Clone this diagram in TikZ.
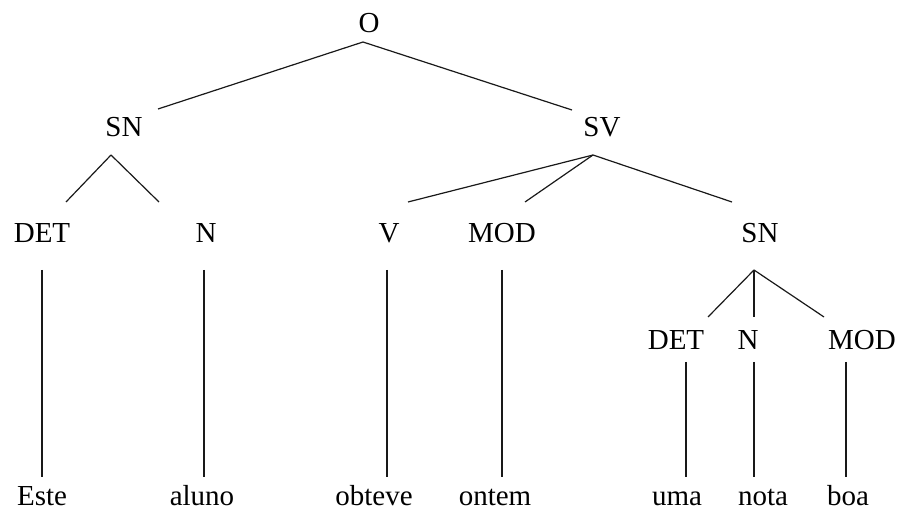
\documentclass[tikz,border=0pt]{standalone}
\usepackage{fontspec}
\setmainfont{Liberation Serif}
\usetikzlibrary{calc}
\begin{document}
\begin{tikzpicture}[x=1pt,y=-1pt,
  lbl/.style={anchor=base,inner sep=0pt,font=\fontsize{29}{34}\selectfont},
  edge/.style={line width=1.2pt,black!90}]
\useasboundingbox (0,0) rectangle (900,510);
% category labels
\node[lbl] (O)    at (369,33)  {O};
\node[lbl] (SNa)  at (124,137) {SN};
\node[lbl] (SV)   at (602,137) {SV};
\node[lbl] (DETa) at (42,243)  {DET};
\node[lbl] (Na)   at (206,243) {N};
\node[lbl] (V)    at (389,243) {V};
\node[lbl] (MODa) at (502,243) {MOD};
\node[lbl] (SNb)  at (760,243) {SN};
\node[lbl] (DETb) at (676,350) {DET};
\node[lbl] (Nb)   at (748,350) {N};
\node[lbl] (MODb) at (862,350) {MOD};
% words
\node[lbl] (este)   at (42,505)  {Este};
\node[lbl] (aluno)  at (202,505) {aluno};
\node[lbl] (obteve) at (374,505) {obteve};
\node[lbl] (ontem)  at (495,505) {ontem};
\node[lbl] (uma)    at (677,505) {uma};
\node[lbl] (nota)   at (763,505) {nota};
\node[lbl] (boa)    at (848,505) {boa};
% branches
\draw[edge] ($(O.base)+(-6,9)$) -- ($(SNa.base)+(34,-28)$);
\draw[edge] ($(O.base)+(-6,9)$) -- ($(SV.base)+(-30,-27)$);
\draw[edge] ($(SNa.base)+(-13,18)$) -- ($(DETa.base)+(24,-41)$);
\draw[edge] ($(SNa.base)+(-13,18)$) -- ($(Na.base)+(-47,-41)$);
\draw[edge] ($(SV.base)+(-9,18)$) -- ($(V.base)+(19,-41)$);
\draw[edge] ($(SV.base)+(-9,18)$) -- ($(MODa.base)+(23,-41)$);
\draw[edge] ($(SV.base)+(-9,18)$) -- ($(SNb.base)+(-28,-41)$);
\draw[edge] ($(DETa.base)+(0,27)$) -- ($(este.base)+(0,-28)$);
\draw[edge] ($(Na.base)+(-2,27)$) -- ($(aluno.base)+(2,-28)$);
\draw[edge] ($(V.base)+(-2,27)$) -- ($(obteve.base)+(13,-28)$);
\draw[edge] ($(MODa.base)+(0,27)$) -- ($(ontem.base)+(7,-28)$);
\draw[edge] ($(SNb.base)+(-6,27)$) -- ($(DETb.base)+(32,-33)$);
\draw[edge] ($(SNb.base)+(-6,27)$) -- ($(Nb.base)+(6,-33)$);
\draw[edge] ($(SNb.base)+(-6,27)$) -- ($(MODb.base)+(-38,-33)$);
\draw[edge] ($(DETb.base)+(10,12)$) -- ($(uma.base)+(9,-28)$);
\draw[edge] ($(Nb.base)+(6,12)$) -- ($(nota.base)+(-9,-28)$);
\draw[edge] ($(MODb.base)+(-16,12)$) -- ($(boa.base)+(-2,-28)$);
\end{tikzpicture}
\end{document}
